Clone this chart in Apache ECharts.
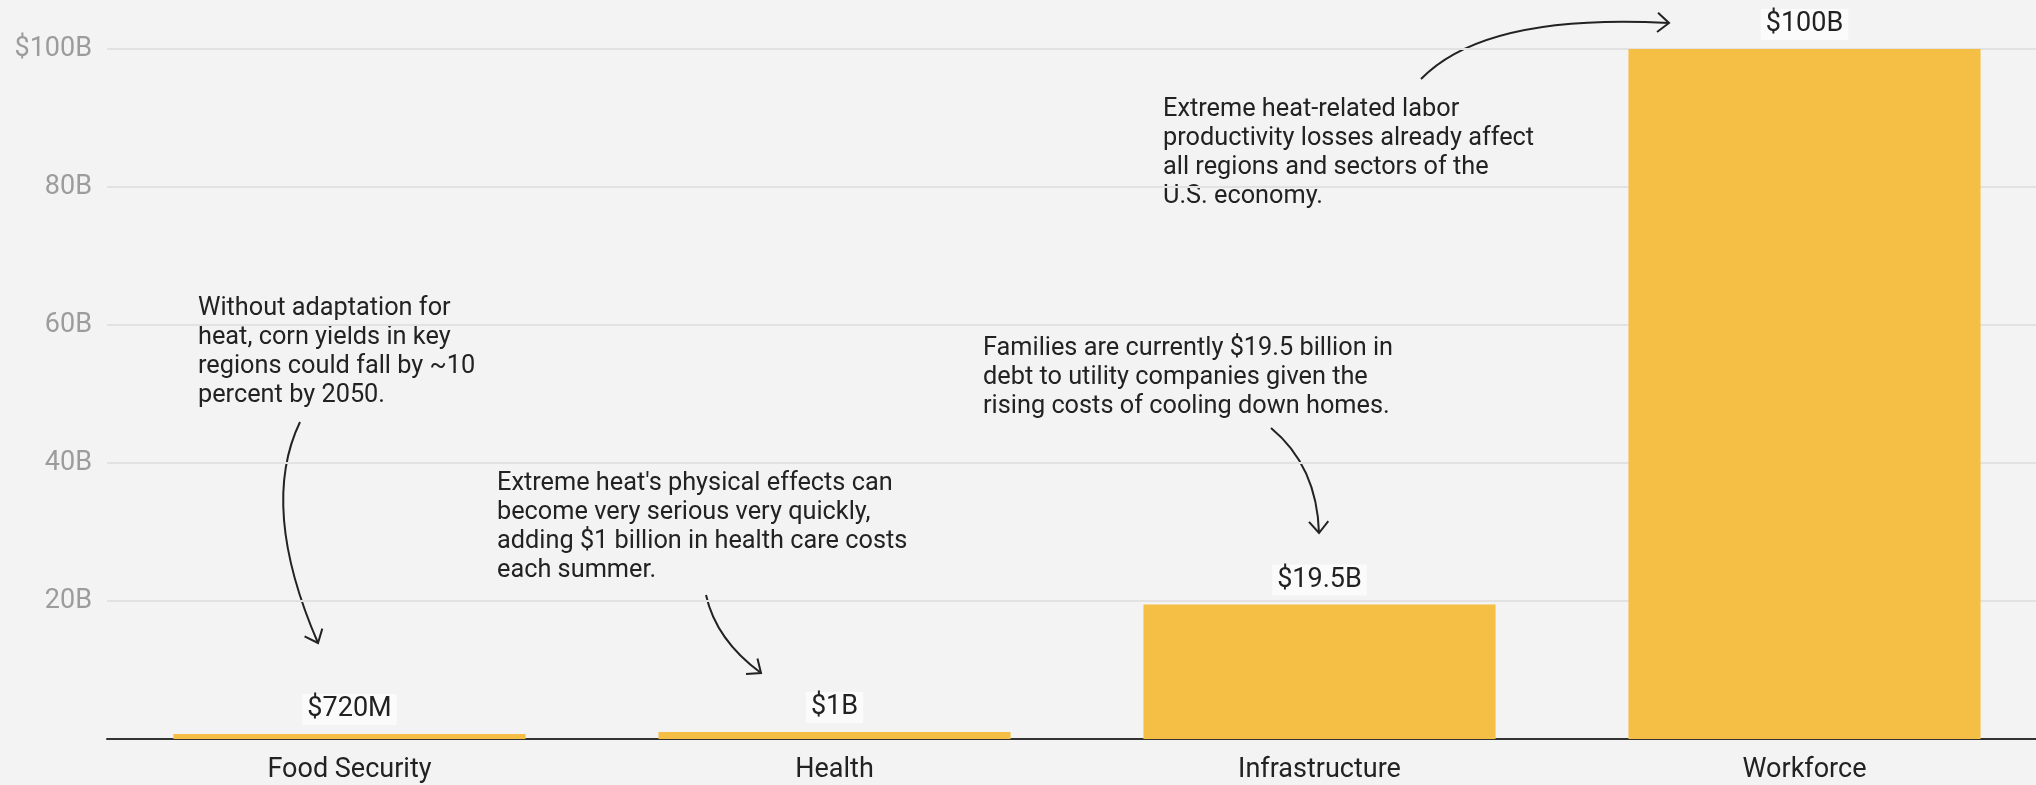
<!DOCTYPE html>
<html>
  <head>
    <meta charset="utf-8" />
    <title>Cost of extreme heat</title>
    <style>
      body {
        margin: 0;
        padding: 0;
        overflow: hidden;
        background: #f3f3f3;
      }
      /* the plot runs a little past the right edge of the window, as in the source */
      #chart {
        width: 2047px;
        height: 785px;
      }
    </style>
  </head>
  <body>
    <div id="chart"></div>
    <script src="https://cdn.jsdelivr.net/npm/echarts@6/dist/echarts.min.js"></script>
    <script type="text/javascript">
      // values in billions of dollars
      var categories = ['Food Security', 'Health', 'Infrastructure', 'Workforce'];
      var costs = [0.72, 1, 19.5, 100];
      var yTicks = [0, 20, 40, 60, 80, 100];

      var notes = [
        'Without adaptation for\nheat, corn yields in key\nregions could fall by ~10\npercent by 2050.',
        "Extreme heat's physical effects can\nbecome very serious very quickly,\nadding $1 billion in health care costs\neach summer.",
        'Families are currently $19.5 billion in\ndebt to utility companies given the\nrising costs of cooling down homes.',
        'Extreme heat-related labor\nproductivity losses already affect\nall regions and sectors of the\nU.S. economy.'
      ];

      var ink = '#222';
      var font = 'Roboto, "Noto Sans", sans-serif';

      function money(v) {
        return v < 1 ? '$' + Math.round(v * 1000) + 'M' : '$' + v + 'B';
      }

      // curved pointer: quadratic curve plus an open arrow head
      function arrow(x1, y1, cx, cy, x2, y2) {
        var a = Math.atan2(y2 - cy, x2 - cx);
        var len = 15,
          spread = 0.7;
        return {
          type: 'group',
          children: [
            {
              type: 'bezierCurve',
              shape: { x1: x1, y1: y1, cpx1: cx, cpy1: cy, x2: x2, y2: y2 },
              style: { stroke: ink, lineWidth: 2, fill: null }
            },
            {
              type: 'polyline',
              shape: {
                points: [
                  [x2 - len * Math.cos(a - spread), y2 - len * Math.sin(a - spread)],
                  [x2, y2],
                  [x2 - len * Math.cos(a + spread), y2 - len * Math.sin(a + spread)]
                ]
              },
              style: { stroke: ink, lineWidth: 2, fill: null }
            }
          ]
        };
      }

      function note(text, left, top) {
        return {
          type: 'text',
          left: left,
          top: top,
          style: {
            text: text,
            fill: ink,
            fontSize: 25.3,
            fontFamily: font,
            lineHeight: 29
          }
        };
      }

      var chart = echarts.init(document.getElementById('chart'));

      var option = {
        backgroundColor: '#f3f3f3',
        animation: false,
        grid: {
          left: 107,
          top: 49,
          right: 0,
          bottom: 46
        },
        xAxis: {
          type: 'category',
          data: categories,
          axisTick: { show: false },
          axisLine: { lineStyle: { color: '#333', width: 2 } },
          axisLabel: {
            color: ink,
            fontSize: 27,
            fontFamily: font,
            margin: 18
          }
        },
        yAxis: {
          type: 'value',
          min: yTicks[0],
          max: yTicks[yTicks.length - 1],
          interval: 20,
          axisLine: { show: false },
          axisTick: { show: false },
          splitLine: { lineStyle: { color: '#e2e2e2', width: 2 } },
          axisLabel: {
            color: '#9c9c9c',
            fontSize: 27,
            fontFamily: font,
            margin: 15,
            formatter: function (v) {
              if (v === 0) return '';
              return v === 100 ? '$' + v + 'B' : v + 'B';
            }
          }
        },
        series: [
          {
            type: 'bar',
            data: costs,
            barCategoryGap: '27.4%',
            itemStyle: { color: '#f5bf45' },
            label: {
              show: true,
              position: 'top',
              distance: 9,
              color: ink,
              fontSize: 27,
              fontFamily: font,
              backgroundColor: '#fbfbfb',
              padding: [2, 5],
              formatter: function (p) {
                return money(p.value);
              }
            }
          }
        ],
        graphic: [
          note(notes[0], 198, 294),
          note(notes[1], 497, 469),
          note(notes[2], 983, 334),
          note(notes[3], 1163, 95),
          arrow(300, 422, 259, 507, 318, 643),
          arrow(706, 595, 716, 640, 761, 673),
          arrow(1271, 428, 1317, 466, 1319, 533),
          arrow(1421, 79, 1485, 13, 1669, 23)
        ]
      };

      chart.setOption(option);
    </script>
  </body>
</html>
